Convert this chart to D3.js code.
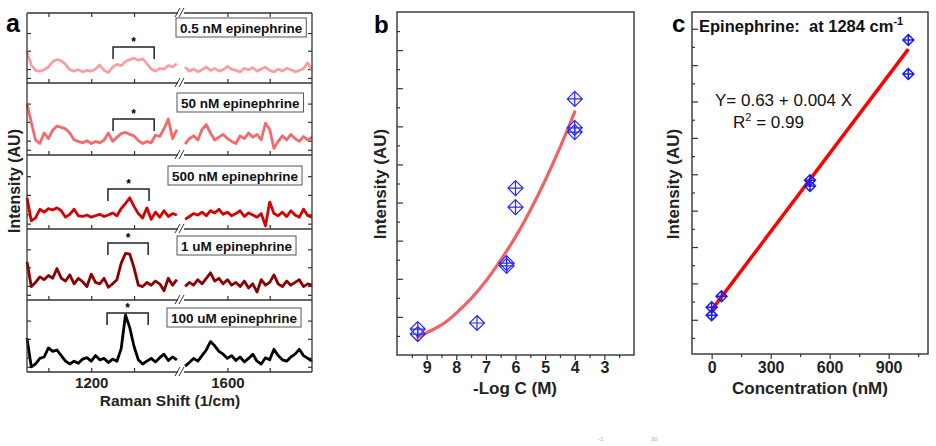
<!DOCTYPE html>
<html>
<head>
<meta charset="utf-8">
<script src="https://cdn.jsdelivr.net/npm/d3@7"></script>
<style>
body { margin: 0; background: #fff; }
svg { font-family: "Liberation Sans", Arial, sans-serif; }
</style>
</head>
<body>
<script>
// ---------- data ----------
// panel a: Raman spectra (broken x axis)
var shiftLeft = [1050,1060,1070,1080,1090,1100,1110,1120,1130,1140,1150,1160,1170,1180,1190,1200,1210,1220,
                 1230,1240,1250,1260,1270,1280,1290,1300,1310,1320,1330,1340,1350,1360,1370,1380,1390,1400];
var shiftRight = [1500,1510,1520,1530,1540,1550,1560,1570,1580,1590,1600,1610,1620,1630,1640,1650,
                  1660,1670,1680,1690,1700,1710,1720,1730,1740,1750,1760,1770,1780,1790,1800];

var spec05nmL = [44,25,17,16,18,22,30,33,31,26,18,16,18,15,17,16,19,25,17,14,22,26,24,30,33,35,32,34,27,19,16,20,19,24,22,27];
var spec05nmR = [22,16,19,15,18,22,17,20,16,18,23,19,17,15,20,18,21,16,19,22,17,15,19,16,20,18,15,17,20,28,17];
var spec50nmL = [72,45,20,15,30,22,34,40,38,36,30,20,18,16,19,15,18,16,20,30,18,24,29,31,28,26,19,15,18,16,27,25,36,50,22,35];
var spec50nmR = [14,22,26,20,35,42,30,20,24,28,22,18,15,26,22,30,24,28,20,44,35,8,18,26,20,28,22,18,25,20,24];
var spec500nmL = [42,10,14,26,22,27,25,28,24,15,19,26,17,16,18,15,17,19,16,18,21,17,27,34,42,30,20,14,28,12,22,15,24,16,20,18];
var spec500nmR = [12,16,20,18,22,17,24,21,26,19,22,17,20,24,16,21,18,15,20,3,36,20,17,22,16,24,18,15,26,17,15];
var spec1umL = [54,18,24,32,28,34,30,44,30,26,35,22,30,25,18,36,24,22,30,17,22,28,52,66,65,45,20,18,24,20,26,22,12,30,20,28];
var spec1umR = [18,24,20,28,22,30,38,26,30,22,28,20,24,18,26,16,22,10,28,20,24,35,22,18,26,20,24,28,18,22,20];
var spec100umL = [47,6,10,18,20,33,28,30,22,14,10,14,11,17,19,14,22,16,18,12,17,14,32,80,62,35,16,10,14,18,13,19,24,15,20,16];
var spec100umR = [7,12,18,14,22,30,42,36,28,24,18,22,15,20,13,18,24,14,10,19,16,31,22,16,14,20,24,31,22,18,14];

var specLabels = ["0.5 nM epinephrine", "50 nM epinephrine", "500 nM epinephrine", "1 uM epinephrine", "100 uM epinephrine"];
var bracketLo = [1251, 1251, 1239, 1239, 1237];
var bracketHi = [1347, 1347, 1335, 1333, 1333];
var aTickLabels = [1200, 1600];
var aTicks = [1100, 1200, 1300, 1600, 1700];

// panel b: intensity vs -log C
var bX = [9.3, 9.3, 7.3, 6.3, 6.3, 6.0, 6.0, 4.0, 4.0, 4.0];
var bY = [0.68, 0.55, 0.84, 2.41, 2.34, 4.38, 3.88, 6.72, 5.96, 5.85];
var bFitX = [9.3, 8.5, 8.0, 7.5, 7.0, 6.5, 6.0, 5.5, 5.0, 4.5, 4.0];
var bFitY = [0.47, 0.79, 1.10, 1.48, 1.94, 2.49, 3.10, 3.80, 4.58, 5.44, 6.38];
var bTickLabels = [9, 8, 7, 6, 5, 4, 3];

// panel c: calibration at 1284 cm-1
var cX = [0, 0, 50, 500, 500, 1000, 1000];
var cY = [0.55, 0.67, 0.84, 2.62, 2.53, 4.77, 4.25];
var cFitX = [0, 1000];
var cFitY = [0.63, 4.63];
var cTickLabels = [0, 300, 600, 900];

// ---------- drawing ----------
var svg = d3.select("body").append("svg").attr("width", 936).attr("height", 446);
var axisColor = "#333";

function noDomain(g) { g.select(".domain").remove(); g.selectAll("line").attr("stroke", axisColor).attr("stroke-width", 1.2); }

// ===== panel a =====
var aLeft = 27, aRight = 312;
var aRows = [13, 83, 155, 229, 300, 372];
var specColors = ["#f7a0a0", "#f46a6a", "#d40000", "#8b0000", "#000000"];
var boxX = [176, 177, 168, 177, 167];
var boxTop = [5, 10, 11, 7, 8];
var bracketTop = [34, 36, 34, 14, 13];
var aYTicks = [6, 19, 46, 72];

var xA = d3.scaleLinear().domain([1050, 1405, 1495, 1800]).range([aLeft, 179, 183, aRight]);

var spectra = [
  [spec05nmL, spec05nmR], [spec50nmL, spec50nmR], [spec500nmL, spec500nmR],
  [spec1umL, spec1umR], [spec100umL, spec100umR]
];

spectra.forEach(function(s, i) {
  var top = aRows[i], bot = aRows[i + 1];
  var y = d3.scaleLinear().domain([0, 100]).range([bot - 1, top + 1]);

  svg.append("g").attr("transform", "translate(" + aLeft + ",0)")
    .call(d3.axisLeft(y).tickValues(aYTicks).tickSize(-4).tickFormat("")).call(noDomain);
  svg.append("g").attr("transform", "translate(" + aRight + ",0)")
    .call(d3.axisRight(y).tickValues(aYTicks).tickSize(-4).tickFormat("")).call(noDomain);
  svg.append("g").attr("transform", "translate(0," + bot + ")")
    .call(d3.axisBottom(xA).tickValues(aTicks).tickSize(-4).tickFormat("")).call(noDomain);

  var line = d3.line().x(d => xA(d[0])).y(d => y(d[1]));
  [d3.zip(shiftLeft, s[0]), d3.zip(shiftRight, s[1])].forEach(function(seg) {
    svg.append("path").datum(seg)
      .attr("d", line)
      .attr("fill", "none")
      .attr("stroke", specColors[i])
      .attr("stroke-width", 2.8)
      .attr("stroke-linejoin", "round");
  });

  // bracket + star
  var bx0 = xA(bracketLo[i]), bx1 = xA(bracketHi[i]), by = top + bracketTop[i];
  svg.append("path")
    .attr("d", "M" + bx0 + "," + (by + 12) + "V" + by + "H" + bx1 + "V" + (by + 12))
    .attr("fill", "none").attr("stroke", "#222").attr("stroke-width", 1.5);
  svg.append("text").attr("x", (bx0 + bx1) / 2).attr("y", by - 1)
    .attr("text-anchor", "middle").attr("font-size", 12).attr("font-weight", "bold")
    .text("*");

  // label box
  var lbl = svg.append("g");
  var t = lbl.append("text").attr("x", boxX[i] + 4).attr("y", top + boxTop[i] + 14.5)
    .attr("font-size", 13.5).attr("font-weight", "bold").attr("fill", "#111")
    .text(specLabels[i]);
  var w = t.node().getComputedTextLength();
  lbl.insert("rect", "text").attr("x", boxX[i]).attr("y", top + boxTop[i])
    .attr("width", w + 8).attr("height", 19)
    .attr("fill", "#fff").attr("stroke", "#555").attr("stroke-width", 1);
});

// top ticks
svg.append("g").attr("transform", "translate(0," + aRows[0] + ")")
  .call(d3.axisTop(xA).tickValues(aTicks).tickSize(-4).tickFormat("")).call(noDomain);

// frame
svg.append("line").attr("x1", aLeft).attr("x2", aLeft).attr("y1", aRows[0]).attr("y2", aRows[5])
  .attr("stroke", axisColor).attr("stroke-width", 1.3);
svg.append("line").attr("x1", aRight).attr("x2", aRight).attr("y1", aRows[0]).attr("y2", aRows[5])
  .attr("stroke", axisColor).attr("stroke-width", 1.3);
aRows.forEach(function(r) {
  svg.append("line").attr("x1", aLeft).attr("x2", aRight).attr("y1", r).attr("y2", r)
    .attr("stroke", axisColor).attr("stroke-width", 1.3);
  // axis break
  svg.append("rect").attr("x", 178).attr("y", r - 2).attr("width", 6).attr("height", 4).attr("fill", "#fff");
  svg.append("path").attr("d", "M175," + (r + 4) + "L180," + (r - 5) + "M179," + (r + 4) + "L184," + (r - 5))
    .attr("stroke", "#333").attr("stroke-width", 1).attr("fill", "none");
});

svg.append("g").attr("transform", "translate(0," + aRows[5] + ")")
  .call(d3.axisBottom(xA).tickValues(aTickLabels).tickSize(0).tickPadding(5).tickFormat(d3.format("d")))
  .call(g => g.select(".domain").remove())
  .selectAll("text").attr("font-size", 15).attr("font-weight", "bold").attr("fill", "#222")
  .attr("font-family", "Liberation Sans, Arial, sans-serif");

svg.append("text").attr("x", 170).attr("y", 406).attr("text-anchor", "middle")
  .attr("font-size", 15.5).attr("font-weight", "bold").attr("fill", "#222").text("Raman Shift (1/cm)");
svg.append("text").attr("transform", "translate(19.5,181) rotate(-90)").attr("text-anchor", "middle")
  .attr("font-size", 16).attr("font-weight", "bold").attr("fill", "#222").text("Intensity (AU)");
svg.append("text").attr("x", 6).attr("y", 32).attr("font-size", 25).attr("font-weight", "bold").text("a");

// ===== diamond marker =====
function diamond(r) {
  return "M0," + (-r) + "L" + r + ",0L0," + r + "L" + (-r) + ",0Z" +
         "M0," + (-r) + "V" + r + "M" + (-r) + ",0H" + r;
}

// ===== panel b =====
var xB = d3.scaleLinear().domain([10, 2]).range([397, 634]);
var yB = d3.scaleLinear().domain([0, 9]).range([355, 12]);

svg.append("rect").attr("x", 397).attr("y", 12).attr("width", 237).attr("height", 343)
  .attr("fill", "none").attr("stroke", axisColor).attr("stroke-width", 1.4);

svg.append("g").attr("transform", "translate(397,0)")
  .call(d3.axisLeft(yB).tickValues([1, 2, 3, 4, 5, 6, 7, 8]).tickSize(-6).tickFormat("")).call(noDomain);
svg.append("g").attr("transform", "translate(397,0)")
  .call(d3.axisLeft(yB).tickValues([0.5, 1.5, 2.5, 3.5, 4.5, 5.5, 6.5, 7.5, 8.5]).tickSize(-3).tickFormat("")).call(noDomain);
svg.append("g").attr("transform", "translate(0,355)")
  .call(d3.axisBottom(xB).tickValues([9.5, 8.5, 7.5, 6.5, 5.5, 4.5, 3.5, 2.5]).tickSize(3).tickFormat("")).call(noDomain);
svg.append("g").attr("transform", "translate(0,355)")
  .call(d3.axisBottom(xB).tickValues(bTickLabels).tickSize(5).tickPadding(2))
  .call(noDomain)
  .selectAll("text").attr("font-size", 16).attr("font-weight", "bold").attr("fill", "#222")
  .attr("font-family", "Liberation Sans, Arial, sans-serif");

svg.append("path").datum(d3.zip(bFitX, bFitY))
  .attr("d", d3.line().x(d => xB(d[0])).y(d => yB(d[1])).curve(d3.curveNatural))
  .attr("fill", "none").attr("stroke", "#f26262").attr("stroke-width", 3.2).attr("stroke-linecap", "round");

svg.append("g").selectAll("path").data(d3.zip(bX, bY)).join("path")
  .attr("transform", d => "translate(" + xB(d[0]) + "," + yB(d[1]) + ")")
  .attr("d", diamond(7.5))
  .attr("fill", "none").attr("stroke", "#2a2aff").attr("stroke-width", 1.2);

svg.append("text").attr("x", 515).attr("y", 394).attr("text-anchor", "middle")
  .attr("font-size", 17).attr("font-weight", "bold").attr("fill", "#222").text("-Log C (M)");
svg.append("text").attr("transform", "translate(386,184) rotate(-90)").attr("text-anchor", "middle")
  .attr("font-size", 17).attr("font-weight", "bold").attr("fill", "#222").text("Intensity (AU)");
svg.append("text").attr("x", 374).attr("y", 33).attr("font-size", 24).attr("font-weight", "bold").text("b");

// ===== panel c =====
var xC = d3.scaleLinear().domain([-100, 1100]).range([692, 928]);
var yC = d3.scaleLinear().domain([-0.046, 5.2]).range([354, 12]);
var cTicks = d3.range(18).map(k => 0.2 + k * 0.279);

svg.append("rect").attr("x", 692).attr("y", 12).attr("width", 236).attr("height", 342)
  .attr("fill", "none").attr("stroke", axisColor).attr("stroke-width", 1.4);

svg.append("g").attr("transform", "translate(692,0)")
  .call(d3.axisLeft(yC).tickValues(cTicks.filter((d, k) => k % 2 === 1)).tickSize(-6).tickFormat("")).call(noDomain);
svg.append("g").attr("transform", "translate(692,0)")
  .call(d3.axisLeft(yC).tickValues(cTicks.filter((d, k) => k % 2 === 0)).tickSize(-3).tickFormat("")).call(noDomain);
svg.append("g").attr("transform", "translate(0,354)")
  .call(d3.axisBottom(xC).tickValues([150, 450, 750, 1050]).tickSize(3).tickFormat("")).call(noDomain);
svg.append("g").attr("transform", "translate(0,354)")
  .call(d3.axisBottom(xC).tickValues(cTickLabels).tickSize(5).tickPadding(3))
  .call(noDomain)
  .selectAll("text").attr("font-size", 16).attr("font-weight", "bold").attr("fill", "#222")
  .attr("font-family", "Liberation Sans, Arial, sans-serif");

svg.append("path").datum(d3.zip(cFitX, cFitY))
  .attr("d", d3.line().x(d => xC(d[0])).y(d => yC(d[1])))
  .attr("fill", "none").attr("stroke", "#ff0000").attr("stroke-width", 3.5);

svg.append("g").selectAll("path").data(d3.zip(cX, cY)).join("path")
  .attr("transform", d => "translate(" + xC(d[0]) + "," + yC(d[1]) + ")")
  .attr("d", diamond(5.5))
  .attr("fill", "none").attr("stroke", "#1a1aff").attr("stroke-width", 1.5);

var head = svg.append("text").attr("x", 699).attr("y", 32).attr("font-size", 16.5)
  .attr("font-weight", "bold").attr("fill", "#111").style("white-space", "pre");
head.append("tspan").text("Epinephrine:  at 1284 cm");
head.append("tspan").attr("dy", -7).attr("font-size", 11).text("-1");

svg.append("text").attr("x", 715).attr("y", 106).attr("font-size", 17).attr("fill", "#111")
  .text("Y= 0.63 + 0.004 X");
var r2 = svg.append("text").attr("x", 733).attr("y", 128).attr("font-size", 17).attr("fill", "#111");
r2.append("tspan").text("R");
r2.append("tspan").attr("dy", -7).attr("font-size", 11).text("2");
r2.append("tspan").attr("dy", 7).text(" = 0.99").style("white-space", "pre");

svg.append("text").attr("x", 810).attr("y", 394).attr("text-anchor", "middle")
  .attr("font-size", 17).attr("font-weight", "bold").attr("fill", "#222").text("Concentration (nM)");
svg.append("text").attr("transform", "translate(679,184) rotate(-90)").attr("text-anchor", "middle")
  .attr("font-size", 17).attr("font-weight", "bold").attr("fill", "#222").text("Intensity (AU)");
svg.append("text").attr("x", 672).attr("y", 32).attr("font-size", 24).attr("font-weight", "bold").text("c");

// faint caption fragments at the bottom edge
svg.append("text").attr("x", 598).attr("y", 441).attr("font-size", 6).attr("fill", "#aaa").text("-1");
svg.append("text").attr("x", 651).attr("y", 441).attr("font-size", 6).attr("fill", "#aaa").text("10");
</script>
</body>
</html>
